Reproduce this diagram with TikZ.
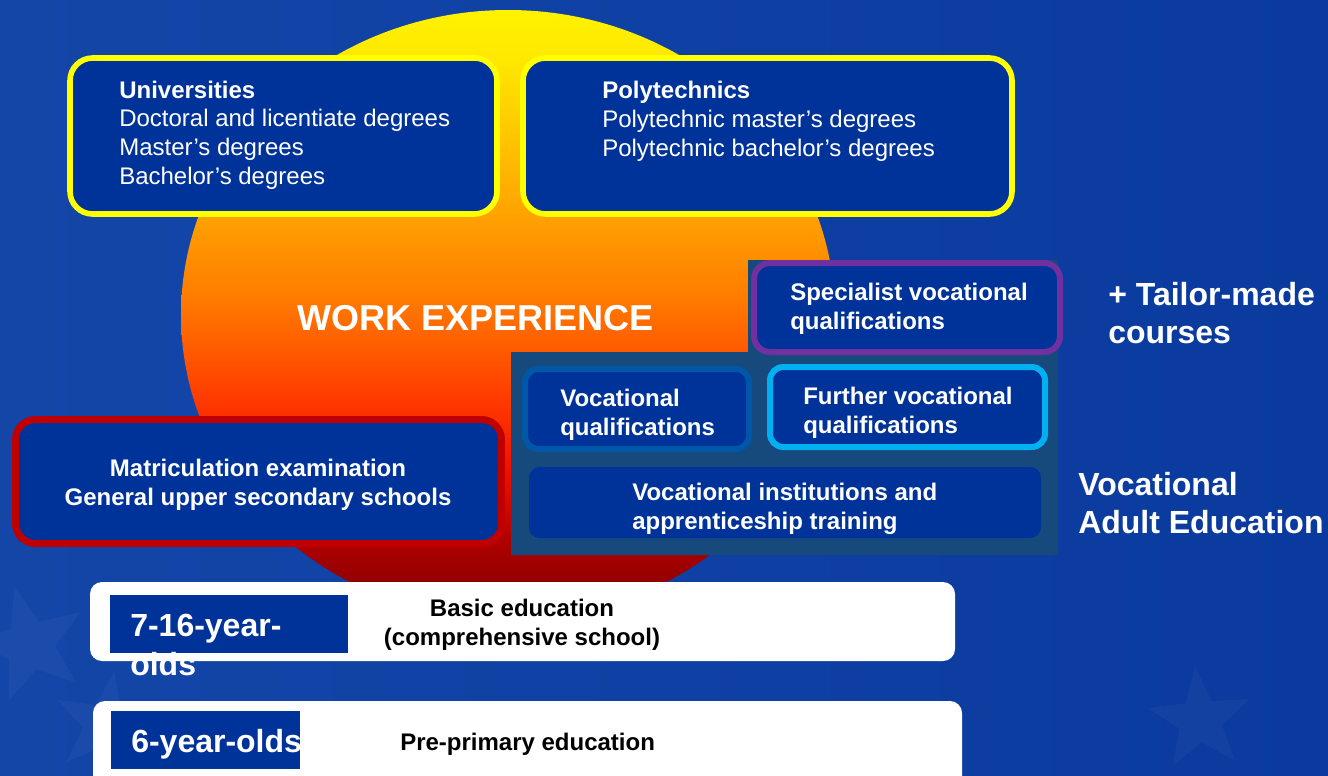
\documentclass[tikz,border=0pt]{standalone}
\usepackage{fontspec}
\setmainfont{Liberation Sans}
\usetikzlibrary{shapes.geometric}
\definecolor{bgleft}{HTML}{1446A8}
\definecolor{bgright}{HTML}{0A3A9E}
\definecolor{boxblue}{HTML}{003399}
\definecolor{yellowb}{HTML}{FFFF00}
\definecolor{purpleb}{HTML}{7030A0}
\definecolor{cyanb}{HTML}{00B0F0}
\definecolor{medblue}{HTML}{0057A8}
\definecolor{panel}{HTML}{174A7C}
\definecolor{redb}{HTML}{C00000}
\definecolor{s0}{HTML}{780000}
\definecolor{s1}{HTML}{B00000}
\definecolor{s2}{HTML}{F01000}
\definecolor{s3}{HTML}{FF3A00}
\definecolor{s4}{HTML}{FF7A00}
\definecolor{s5}{HTML}{FFA000}
\definecolor{s6}{HTML}{FFE800}
\definecolor{s7}{HTML}{FFF200}
\pgfdeclareverticalshading{sunshade}{100bp}{color(0bp)=(s0); color(25bp)=(s0); color(31.5bp)=(s1); color(37.3bp)=(s2); color(43bp)=(s3); color(51.25bp)=(s4); color(57.8bp)=(s5); color(70.9bp)=(s6); color(75bp)=(s7); color(100bp)=(s7)}
\tikzset{
  bluebox/.style={fill=boxblue},
  txt/.style={text=white, font=\fontsize{18pt}{21.6pt}\selectfont, inner sep=0pt, align=left},
  btxt/.style={txt, font=\fontsize{18pt}{21.6pt}\selectfont\bfseries},
  bigtxt/.style={text=white, font=\fontsize{24pt}{28.8pt}\selectfont\bfseries, inner sep=0pt, align=left},
  darktxt/.style={text=black, font=\fontsize{18pt}{21.6pt}\selectfont\bfseries, inner sep=0pt},
  faintstar/.style={star, star points=5, star point ratio=2.4, fill=white, fill opacity=0.035, draw=none, inner sep=0pt}
}
\begin{document}
\begin{tikzpicture}[x=0.75pt,y=-0.75pt]
\useasboundingbox (0,0) rectangle (1328,775);
% background
\shade[left color=bgleft, right color=bgright] (0,0) rectangle (1328,775);
\node[faintstar, minimum size=90pt, rotate=15] (st1) at (30,645) {};
\node[faintstar, minimum size=80pt, rotate=-10] (st2) at (105,725) {};
\node[faintstar, minimum size=80pt, rotate=5] (st3) at (1200,720) {};
% sun
\shade[shading=sunshade] (508,315) ellipse [x radius=327, y radius=305];
% top boxes
\draw[bluebox, draw=yellowb, line width=4.2pt, rounded corners=17pt] (70,58) rectangle (497,214);
\draw[bluebox, draw=yellowb, line width=4.2pt, rounded corners=17pt] (523,58) rectangle (1012,214);
\node[txt, anchor=west] (uni) at (119,135) {\textbf{Universities}\\Doctoral and licentiate degrees\\Master’s degrees\\Bachelor’s degrees};
\node[txt, anchor=west] (poly) at (602,121) {\textbf{Polytechnics}\\Polytechnic master’s degrees\\Polytechnic bachelor’s degrees};
% work experience
\node[text=white, font=\fontsize{27pt}{32pt}\selectfont\bfseries, inner sep=0pt] (work) at (476,318) {WORK EXPERIENCE};
% vocational panel
\fill[panel] (511,352) -- (748,352) -- (748,260) -- (1058,260) -- (1058,555) -- (511,555) -- cycle;
\draw[bluebox, draw=purpleb, line width=4.5pt, rounded corners=12pt] (754,263) rectangle (1060,352);
\node[btxt, anchor=west] (spec) at (790,309) {Specialist vocational\\qualifications};
\draw[bluebox, draw=medblue, line width=4.5pt, rounded corners=10pt] (525,369) rectangle (749,449);
\node[btxt, anchor=west] (vq) at (560,415) {Vocational\\qualifications};
\draw[bluebox, draw=cyanb, line width=4.5pt, rounded corners=10pt] (770,367) rectangle (1045,447);
\node[btxt, anchor=west] (fvq) at (803,413) {Further vocational\\qualifications};
\fill[bluebox, rounded corners=8pt] (529,467) rectangle (1041,538);
\node[btxt, anchor=west] (vi) at (632,509) {Vocational institutions and\\apprenticeship training};
% matriculation
\draw[bluebox, draw=redb, line width=5.2pt, rounded corners=15pt] (15.5,419.5) rectangle (501.5,543.5);
\node[btxt, align=center] (mat) at (258,485) {Matriculation examination\\General upper secondary schools};
% right labels
\node[bigtxt, anchor=west] (tailor) at (1108,313) {+ Tailor-made\\courses};
\node[bigtxt, anchor=west] (vae) at (1078,503) {Vocational\\Adult Education};
% basic education
\fill[white, rounded corners=9pt] (90,582) rectangle (955,661);
\fill[boxblue] (110,595) rectangle (348,653);
\node[bigtxt, anchor=north west] (age7) at (130,614) {7-16-year-\\olds};
\node[darktxt, align=center] (basic) at (522,625) {Basic education\\(comprehensive school)};
% pre-primary
\fill[white, rounded corners=9pt] (93,701) rectangle (962,790);
\fill[boxblue] (111,711) rectangle (300,769);
\node[bigtxt, anchor=west] (age6) at (131,744) {6-year-olds};
\node[darktxt, anchor=west] (pre) at (400,744) {Pre-primary education};
\end{tikzpicture}
\end{document}
